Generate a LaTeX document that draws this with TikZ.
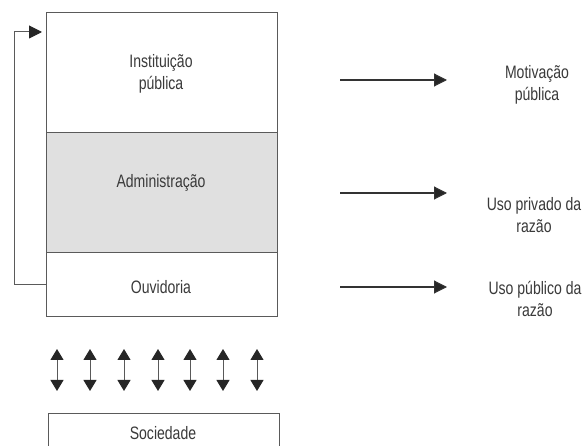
\documentclass[tikz,border=0pt]{standalone}
\usepackage{fontspec}
\setmainfont{Liberation Sans}[FakeStretch=0.78]
\usetikzlibrary{arrows.meta}
\definecolor{linec}{HTML}{5A5A5A}
\definecolor{textc}{HTML}{3A3A3A}
\definecolor{fillg}{HTML}{E0E0E0}
\begin{document}
\begin{tikzpicture}[x=1pt,y=-1pt,
  every node/.style={font=\fontsize{18}{22}\selectfont, text=textc, align=center, inner sep=0pt},
  boxst/.style={draw=linec, line width=1pt},
  conn/.style={draw=black!80, line width=1.1pt, -{Triangle[length=13pt,width=13pt,fill=black!85]}},
  fbst/.style={draw=linec, line width=1pt, -{Triangle[length=13pt,width=13pt,fill=black!85,color=black!85]}},
  dbl/.style={draw=black!65, line width=1pt, {Triangle[length=11pt,width=13pt,fill=black!85,color=black!85]}-{Triangle[length=11pt,width=13pt,fill=black!85,color=black!85]}}]
\useasboundingbox (0,0) rectangle (587,446);
\clip (0,0) rectangle (587,446);
\fill[white] (0,0) rectangle (587,446);
% boxes
\path[boxst] (46,13) rectangle (277,133);
\path[boxst, fill=fillg] (46,133) rectangle (277,253);
\path[boxst] (46,253) rectangle (277,317);
\path[boxst] (48,414) rectangle (279,460);
\node (inst) at (161,74) {Instituição\\pública};
\node (adm) at (161,183) {Administração};
\node (ouv) at (161,287) {Ouvidoria};
\node (soc) at (163,433) {Sociedade};
% feedback
\coordinate (fb1) at (46,285);
\coordinate (fb2) at (14,285);
\coordinate (fb3) at (14,32);
\coordinate (fb4) at (42,32);
\draw[fbst] (fb1) -- (fb2) -- (fb3) -- (fb4);
% double arrows
\foreach \x [count=\i] in {57,90,124,158,190,223,257}{
  \coordinate (da\i) at (\x,349);
  \coordinate (db\i) at (\x,391);
  \draw[dbl] (da\i) -- (db\i);
}
% right arrows
\coordinate (r1a) at (340,80); \coordinate (r1b) at (447,80);
\coordinate (r2a) at (340,193); \coordinate (r2b) at (447,193);
\coordinate (r3a) at (340,287); \coordinate (r3b) at (447,287);
\draw[conn] (r1a) -- (r1b);
\draw[conn] (r2a) -- (r2b);
\draw[conn] (r3a) -- (r3b);
\node (mot) at (537,85) {Motivação\\pública};
\node (priv) at (534,215) {Uso privado da\\razão};
\node (pub) at (535,299) {Uso público da\\razão};
\end{tikzpicture}
\end{document}
